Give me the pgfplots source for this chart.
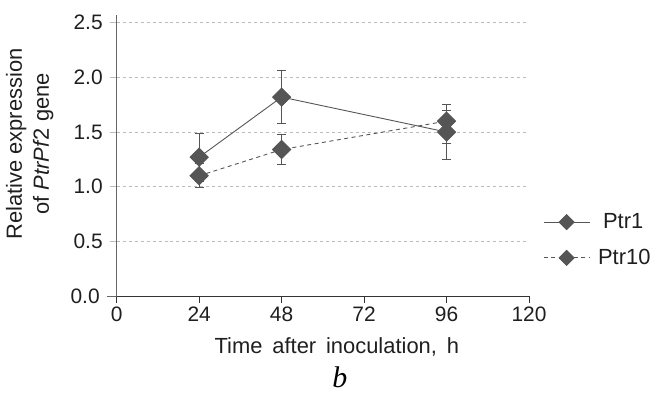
\documentclass[border=0pt]{standalone}
\usepackage{fontspec}
\setmainfont{Liberation Sans}
\newfontfamily\serifit{Liberation Serif}
\usepackage{pgfplots}
\pgfplotsset{compat=1.18}
\definecolor{dg}{HTML}{555555}
\definecolor{ax}{HTML}{666666}
\definecolor{gr}{HTML}{BBBBBB}
\begin{document}
\begin{tikzpicture}
\useasboundingbox (-116.7bp,-97bp) rectangle (534.3bp,296bp);
\begin{axis}[
  at={(0,0)}, anchor=south west,
  scale only axis, width=412.3bp, height=281bp,
  xmin=0, xmax=120, ymin=0, ymax=2.571,
  axis x line*=bottom, axis y line*=left,
  x axis line style={draw=black!80, line width=1pt},
  y axis line style={draw=ax, line width=1.3pt},
  xtick={0,24,48,72,96,120},
  ytick={0.5,1,1.5,2,2.5},
  yticklabels={0.5,1.0,1.5,2.0,2.5},
  extra y ticks={0}, extra y tick labels={0.0},
  extra y tick style={grid=none, major tick length=10bp, ytick style={draw=ax, line width=0.9pt},
     yticklabel style={xshift=0bp}},
  tick align=outside, major tick length=7bp,
  xtick style={draw=black!80, line width=0.8pt},
  ytick style={draw=gr, line width=0.8pt},
  yticklabel style={xshift=-3.5bp},
  ymajorgrids, grid style={draw=gr, dashed, line width=0.8pt},
  font=\fontsize{21}{25}\selectfont,
  tick label style={font=\fontsize{21}{25}\selectfont, text=black!88},
  /pgf/number format/assume math mode=true,
  ylabel={Relative expression\\of \textit{PtrPf}2 gene},
  ylabel style={at={(axis description cs:-0.145,0.541)}, anchor=south, align=center, text=black!88, font=\fontsize{22}{27}\selectfont},
  xlabel={Time\hspace{0.45em}after\hspace{0.45em}inoculation,\hspace{0.45em}h},
  xlabel style={at={(axis description cs:0.534,-0.206)}, anchor=base, text=black!88, font=\fontsize{22}{26}\selectfont},
  legend style={at={(axis description cs:1.034,0.199)}, anchor=west, draw=none, fill=none,
    font=\fontsize{22}{26}\selectfont, row sep=13bp, inner sep=0pt, nodes={inner sep=3bp, text=black!88}},
  legend cell align=left,
  legend image code/.code={\draw[mark repeat=2,mark phase=2,#1,mark size=5.3bp] plot coordinates {(0bp,0bp) (23bp,0bp) (46bp,0bp)};},
  error bars/error mark options={rotate=90, mark size=4.5bp, line width=0.9pt, draw=dg},
  clip=false,
]
\addplot[color=dg, line width=0.9pt, mark=square*, mark size=6.4bp,
     mark options={rotate=45, solid, fill=dg, draw=dg},
     error bars/.cd, y dir=both, y explicit, error bar style={draw=dg, line width=0.9pt, solid}]
  coordinates {(24,1.27) +- (0,0.22) (48,1.82) +- (0,0.245) (96,1.50) +- (0,0.25)};
\addlegendentry{\hspace{10bp}Ptr1}
\addplot[color=dg, line width=0.9pt, dash pattern=on 4bp off 3.5bp, mark=square*, mark size=6.4bp,
     mark options={rotate=45, solid, fill=dg, draw=dg},
     error bars/.cd, y dir=both, y explicit, error bar style={draw=dg, line width=0.9pt, solid}]
  coordinates {(24,1.10) +- (0,0.11) (48,1.34) +- (0,0.14) (96,1.60) += (0,0.10) -= (0,0.20)};
\addlegendentry{\hspace{5bp}Ptr10}
\node[anchor=base, inner sep=0pt, font=\fontsize{30}{34}\selectfont\serifit\itshape] at (axis description cs:0.541,-0.325) {b};
\end{axis}
\end{tikzpicture}
\end{document}
